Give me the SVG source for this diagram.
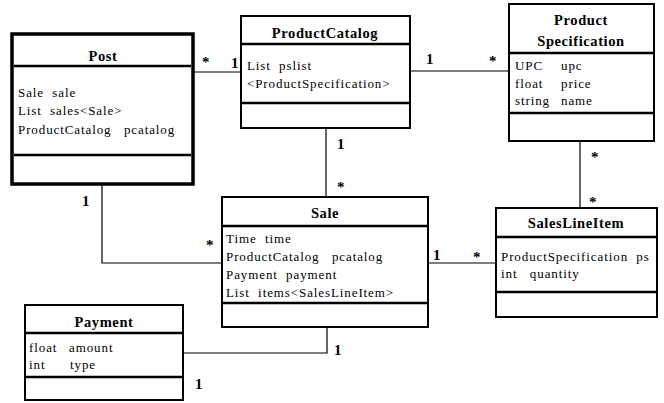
<svg xmlns="http://www.w3.org/2000/svg" width="664" height="403" viewBox="0 0 664 403">
<style>
.box{fill:#fff;stroke:#000;stroke-width:2}
.thick{stroke-width:3.5}
.div{stroke:#000;stroke-width:2.5}
.t{font-family:"Liberation Serif",serif;font-weight:bold;font-size:14.5px;letter-spacing:0.6px;text-anchor:middle;fill:#000}
.a{font-family:"Liberation Serif",serif;font-size:13px;letter-spacing:0.9px;fill:#000}
.m{font-family:"Liberation Serif",serif;font-weight:bold;font-size:15px;fill:#000}
.c{fill:none;stroke:#000;stroke-width:1.2}
</style>
<rect width="664" height="403" fill="#fff"/>
<g id="connectors">
<line class="c" x1="193" y1="72" x2="241" y2="72"/>
<line class="c" x1="410" y1="71" x2="509" y2="71"/>
<line class="c" x1="326" y1="128" x2="326" y2="197"/>
<line class="c" x1="580" y1="141" x2="580" y2="208"/>
<polyline class="c" points="102,184 102,263 222,263"/>
<line class="c" x1="428" y1="263" x2="496" y2="263"/>
<polyline class="c" points="183,353 327,353 327,327"/>
<text class="m" x="202" y="67">*</text>
<text class="m" x="231" y="68">1</text>
<text class="m" x="426" y="64">1</text>
<text class="m" x="489" y="66">*</text>
<text class="m" x="337" y="149">1</text>
<text class="m" x="337" y="192">*</text>
<text class="m" x="591" y="162">*</text>
<text class="m" x="589" y="207">*</text>
<text class="m" x="82" y="206">1</text>
<text class="m" x="206" y="250">*</text>
<text class="m" x="433" y="260">1</text>
<text class="m" x="473" y="262">*</text>
<text class="m" x="334" y="355">1</text>
<text class="m" x="195" y="389">1</text>
</g>
<g id="Post">
<rect class="box thick" x="12" y="34" width="181" height="150"/>
<line class="div" x1="14" y1="66" x2="191" y2="66"/>
<line class="div" x1="14" y1="155" x2="191" y2="155"/>
<text class="t" x="103" y="61">Post</text>
<text class="a" x="18" y="97" xml:space="preserve">Sale  sale</text>
<text class="a" x="18" y="115" xml:space="preserve">List  sales&lt;Sale&gt;</text>
<text class="a" x="18" y="134" xml:space="preserve">ProductCatalog   pcatalog</text>
</g>
<g id="ProductCatalog">
<rect class="box" x="241" y="16" width="169" height="112"/>
<line class="div" x1="242" y1="44" x2="409" y2="44"/>
<line class="div" x1="242" y1="103" x2="409" y2="103"/>
<text class="t" x="325" y="38">ProductCatalog</text>
<text class="a" x="247" y="70" xml:space="preserve">List  pslist</text>
<text class="a" x="247" y="88">&lt;ProductSpecification&gt;</text>
</g>
<g id="ProductSpecification">
<rect class="box" x="509" y="4" width="145" height="137"/>
<line class="div" x1="510" y1="53" x2="653" y2="53"/>
<line class="div" x1="510" y1="113" x2="653" y2="113"/>
<text class="t" x="581" y="25">Product</text>
<text class="t" x="581" y="46">Specification</text>
<text class="a" x="515" y="70">UPC</text>
<text class="a" x="561" y="70">upc</text>
<text class="a" x="515" y="88">float</text>
<text class="a" x="561" y="88">price</text>
<text class="a" x="515" y="105">string</text>
<text class="a" x="561" y="105">name</text>
</g>
<g id="Sale">
<rect class="box" x="222" y="197" width="206" height="130"/>
<line class="div" x1="223" y1="226" x2="427" y2="226"/>
<line class="div" x1="223" y1="303" x2="427" y2="303"/>
<text class="t" x="325" y="218">Sale</text>
<text class="a" x="226" y="243" xml:space="preserve">Time  time</text>
<text class="a" x="226" y="261" xml:space="preserve">ProductCatalog   pcatalog</text>
<text class="a" x="226" y="279" xml:space="preserve">Payment  payment</text>
<text class="a" x="226" y="297" xml:space="preserve">List  items&lt;SalesLineItem&gt;</text>
</g>
<g id="SalesLineItem">
<rect class="box" x="496" y="208" width="161" height="109"/>
<line class="div" x1="497" y1="237" x2="656" y2="237"/>
<line class="div" x1="497" y1="292" x2="656" y2="292"/>
<text class="t" x="576" y="228">SalesLineItem</text>
<text class="a" x="501" y="261" xml:space="preserve">ProductSpecification  ps</text>
<text class="a" x="501" y="278" xml:space="preserve">int   quantity</text>
</g>
<g id="Payment">
<rect class="box" x="25" y="305" width="158" height="95"/>
<line class="div" x1="26" y1="333" x2="182" y2="333"/>
<line class="div" x1="26" y1="377" x2="182" y2="377"/>
<text class="t" x="104" y="327">Payment</text>
<text class="a" x="29" y="352">float</text>
<text class="a" x="69" y="352">amount</text>
<text class="a" x="29" y="369">int</text>
<text class="a" x="70" y="369">type</text>
</g>
</svg>
